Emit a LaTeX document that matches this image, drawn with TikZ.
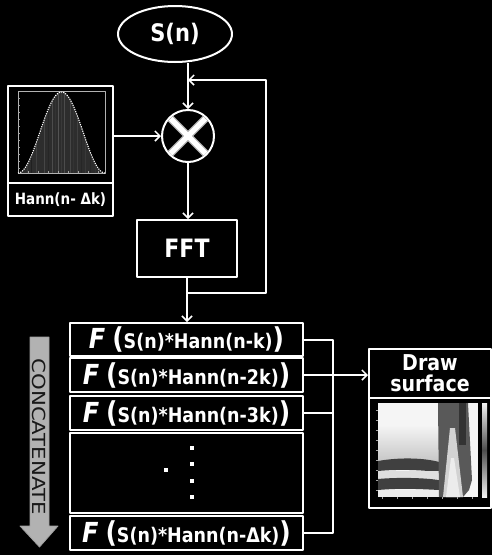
\documentclass[tikz,border=0pt]{standalone}
\usepackage{fontspec}
\setmainfont{DejaVu Sans}
\usetikzlibrary{arrows.meta,shapes.geometric}
\newcommand\tall[1]{\scalebox{1}[1.15]{#1}}
\newcommand\rtxt[1]{\tall{{\fontsize{24}{24}\selectfont\bfseries\itshape F}\hspace{7pt}{\fontsize{25}{25}\selectfont\bfseries(}{\fontsize{17.5}{17.5}\selectfont\bfseries #1}{\fontsize{25}{25}\selectfont\bfseries)}}}
\begin{document}
\begin{tikzpicture}[x=1pt,y=-1pt,line join=round,
  box/.style={draw=white,line width=2pt,inner sep=0pt,text=white,font=\bfseries},
  rowbox/.style={box,minimum width=233pt},
  arr/.style={draw=white,line width=2pt,-{Straight Barb[length=5pt,width=10pt,line width=1.5pt]}},
  wire/.style={draw=white,line width=2pt},
  tick/.style={draw=gray!70,line width=0.3pt}]
\fill[black] (0,0) rectangle (492,555);
\useasboundingbox (0,0) rectangle (492,555);

% nodes
\node[box,ellipse,minimum width=114pt,minimum height=56pt,font=\bfseries\fontsize{21}{21}\selectfont] (sn) at (175,34) {\tall{S(n)}};
\node[box,circle,minimum size=52pt] (mult) at (188,136) {};
\draw[gray!60,line width=7.5pt] ([shift={(-17.5,-17.5)}]mult.center) -- ([shift={(17.5,17.5)}]mult.center);
\draw[gray!60,line width=7.5pt] ([shift={(-17.5,17.5)}]mult.center) -- ([shift={(17.5,-17.5)}]mult.center);
\draw[white,line width=5pt] ([shift={(-17.5,-17.5)}]mult.center) -- ([shift={(17.5,17.5)}]mult.center);
\draw[white,line width=5pt] ([shift={(-17.5,17.5)}]mult.center) -- ([shift={(17.5,-17.5)}]mult.center);

\node[box,minimum width=105pt,minimum height=97pt] (hannplot) at (60.5,134.5) {};
\node[box,minimum width=105pt,minimum height=33pt,font=\bfseries\fontsize{13.5}{13.5}\selectfont] (hannlbl) at (60.5,199.5) {\tall{Hann(n- Δk)}};

% Hann plot content
\begin{scope}
\clip plot[domain=0:1,samples=60] ({18+87*\x},{173-81*pow(sin(180*\x),2)}) -- cycle;
\fill[gray!35!black] (18,90) rectangle (105,173);
\foreach \i/\g in {22/30,27/45,31/25,36/50,40/35,44/55,48/30,52/60,55/40,58/65,61/45,64/60,67/35,70/55,73/40,77/50,81/30,85/45,90/30,95/40,100/25}
  \draw[gray!\g!black,line width=0.8pt] (\i,90) -- (\i,173);
\end{scope}
\draw[gray!60,line width=0.4pt] (18,91) rectangle (105,173);
\foreach \t in {98,105,...,168} \draw[tick] (18,\t) -- (20,\t);
\foreach \t in {28,38,...,98} \draw[tick] (\t,173) -- (\t,171);
\draw[white,line width=1.1pt,dash pattern=on 1.2pt off 1.1pt] plot[domain=0:1,samples=60] ({18+87*\x},{173-81*pow(sin(180*\x),2)});

\node[box,minimum width=100pt,minimum height=57pt,font=\bfseries\fontsize{22}{22}\selectfont] (fft) at (187,248.5) {\tall{FFT}};

\node[rowbox,minimum height=33pt] (row1) at (186.5,339.5) {\rtxt{S(n)*Hann(n-k)}};
\node[rowbox,minimum height=34pt] (row2) at (186.5,375) {\rtxt{S(n)*Hann(n-2k)}};
\node[rowbox,minimum height=34pt] (row3) at (186.5,413) {\rtxt{S(n)*Hann(n-3k)}};
\node[rowbox,minimum height=80pt] (dotsbox) at (186.5,473) {};
\node[rowbox,minimum height=34pt] (row5) at (186.5,533) {\rtxt{S(n)*Hann(n-Δk)}};
\foreach \dy in {448,464,481,497} \fill[white] (190,\dy-2) rectangle (194,\dy+2);
\fill[white] (164,468) rectangle (168,472);

\node[box,minimum width=122pt,minimum height=49pt,align=center,font=\bfseries\fontsize{19}{21}\selectfont] (drawlbl) at (430,373.5) {\tall{Draw}\\\tall{surface}};
\node[box,minimum width=122pt,minimum height=110pt] (drawimg) at (430,453) {};

% spectrogram
\fill[gray!8] (378,403) rectangle (478,497);
\shade[top color=gray!8,bottom color=gray!45] (378,425) rectangle (439,462);
\fill[black!75] (378,461) .. controls (400,457) and (425,458) .. (439,462) -- (439,472) .. controls (420,470) and (400,469) .. (378,471) -- cycle;
\fill[gray!25] (378,471) rectangle (439,479);
\fill[black!75] (378,479) .. controls (400,477) and (425,478) .. (439,480) -- (439,490) .. controls (420,489) and (400,488) .. (378,490) -- cycle;
\fill[gray!15] (378,490) rectangle (439,497);
\fill[black!65] (438,403) -- (468,403) -- (472,480) -- (469,490) -- (463,497) -- (439,497) -- cycle;
\fill[gray!35] (450,428) -- (455,428) -- (463,497) -- (443,497) -- cycle;
\fill[gray!15] (451,458) -- (454,458) -- (460,497) -- (446,497) -- cycle;
\fill[black!80] (459,403) rectangle (466,445);
\shade[top color=gray!10,bottom color=gray!10,middle color=black!70] (482,403) rectangle (487,497);
\foreach \t in {410,420,...,490} \draw[tick] (376,\t) -- (378,\t);
\foreach \t in {382,397,...,478} \draw[tick] (\t,497) -- (\t,499);

% concatenate arrow
\filldraw[fill=gray!60,draw=gray!75,line width=0.8pt] (30,337) -- (49,337) -- (49,526) -- (58,526) -- (39.5,547) -- (20,526) -- (30,526) -- cycle;
\node[rotate=-90,xscale=1.18,text=black!90,font=\fontsize{18}{18}\selectfont,inner sep=0pt] (concat) at (39.5,437) {CONCATENATE};

% connectors
\coordinate (jn) at (187,293);
\coordinate (fbr) at (266,293);
\coordinate (fbt) at (266,80);
\coordinate (bus) at (333,0);
\draw[arr] (sn.south -| mult) -- (mult.north);
\draw[arr] (hannplot.east |- mult.west) -- (mult.west);
\draw[arr] (mult.south) -- (mult.south |- fft.north);
\draw[arr] (fft.south) -- (fft.south |- row1.north);
\draw[arr] (jn) -- (fbr) -- (fbt) -- (mult.north |- fbt);
\draw[wire] (row1.east) -- (row1.east -| bus) -- (row5.east -| bus) -- (row5.east);
\draw[wire] (row3.east) -- (row3.east -| bus);
\draw[arr] (row2.east) -- (row2.east -| drawlbl.west);
\end{tikzpicture}
\end{document}
